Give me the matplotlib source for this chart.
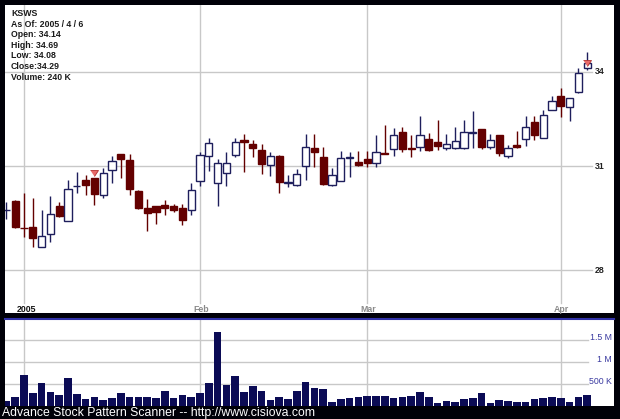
import matplotlib
matplotlib.use('Agg')
import matplotlib.pyplot as plt
import numpy as np
import pandas as pd

# ---------------- data ----------------
ticker = "KSWS"
holidays = ['2005-01-17', '2005-02-21', '2005-03-25']
dates = [d for d in pd.bdate_range('2004-12-30', '2005-04-06')
         if d.strftime('%Y-%m-%d') not in holidays]

opens = [29.69, 29.95, 29.18, 29.20, 28.64, 29.02, 29.80, 29.37, 30.39, 30.59,
         30.65, 30.13, 30.88, 31.38, 31.19, 30.27, 29.77, 29.80, 29.83, 29.80,
         29.77, 29.71, 30.56, 31.31, 30.50, 30.80, 31.35, 31.82, 31.69, 31.50,
         31.03, 31.31, 30.50, 30.42, 31.00, 31.57, 31.28, 30.42, 30.56, 31.25,
         31.12, 31.22, 31.09, 31.41, 31.53, 32.07, 31.57, 31.60, 31.85, 31.76,
         31.57, 31.57, 31.57, 32.04, 32.14, 31.60, 31.95, 31.31, 31.66, 31.85,
         32.36, 31.88, 32.77, 33.21, 32.86, 33.34, 34.14]
highs = [29.93, 30.00, 30.19, 30.04, 29.69, 30.10, 29.92, 30.59, 30.83, 30.74,
         30.65, 30.94, 31.31, 31.38, 31.38, 30.30, 30.01, 29.80, 29.98, 29.86,
         29.86, 30.50, 31.44, 31.88, 31.22, 31.44, 31.88, 32.01, 31.82, 31.69,
         31.44, 31.35, 30.74, 30.91, 31.98, 31.98, 31.60, 30.94, 31.47, 31.44,
         31.47, 31.47, 31.95, 32.29, 32.17, 32.23, 31.95, 32.55, 32.04, 32.45,
         31.98, 32.20, 32.45, 32.74, 32.14, 32.01, 31.95, 31.66, 32.10, 32.55,
         32.55, 32.77, 33.21, 33.46, 33.15, 34.13, 34.69]
lows = [29.43, 29.18, 28.93, 28.64, 28.64, 28.79, 29.49, 29.37, 30.21, 30.13,
        29.83, 30.04, 30.50, 30.65, 30.13, 29.74, 29.08, 29.28, 29.54, 29.63,
        29.25, 29.54, 30.39, 30.85, 29.80, 30.39, 31.28, 30.82, 31.28, 30.77,
        30.71, 30.21, 30.36, 30.39, 30.59, 30.97, 30.42, 30.39, 30.56, 30.68,
        31.00, 30.97, 30.97, 31.38, 31.31, 31.44, 31.28, 31.47, 31.47, 31.50,
        31.50, 31.53, 31.53, 31.57, 31.53, 31.53, 31.31, 31.25, 31.57, 31.63,
        31.82, 31.88, 32.77, 32.52, 32.39, 33.30, 34.08]
closes = [29.70, 29.20, 29.17, 28.90, 28.96, 29.57, 29.52, 30.33, 30.40, 30.42,
          30.16, 30.80, 31.16, 31.22, 30.33, 29.77, 29.60, 29.63, 29.77, 29.71,
          29.40, 30.30, 31.35, 31.72, 31.09, 31.09, 31.76, 31.76, 31.57, 31.06,
          31.31, 30.53, 30.53, 30.77, 31.60, 31.44, 30.47, 30.74, 31.25, 31.28,
          31.03, 31.09, 31.44, 31.38, 31.95, 31.53, 31.53, 31.95, 31.50, 31.63,
          31.69, 31.79, 32.07, 32.05, 31.60, 31.82, 31.41, 31.57, 31.60, 32.20,
          31.95, 32.61, 33.05, 32.89, 33.15, 33.97, 34.29]
volumes_k = [114, 212, 705, 288, 515, 311, 243, 644, 265, 152,
             212, 136, 182, 288, 197, 197, 197, 174, 341, 174,
             243, 205, 288, 523, 1690, 485, 682, 311, 455, 341,
             136, 197, 167, 341, 546, 417, 379, 98, 152, 174,
             212, 227, 227, 227, 190, 197, 227, 318, 197, 76,
             114, 98, 152, 190, 303, 68, 136, 114, 98, 98,
             152, 174, 212, 174, 98, 212, 240]
signal_idx = [10, 66]

price_ticks = [28, 31, 34]
volume_ticks = [500e3, 1e6, 1.5e6]
volume_tick_labels = ['500 K', '1 M', '1.5 M']
info_lines = [ticker, "As Of: 2005 / 4 / 6", "Open: 34.14", "High: 34.69",
              "Low: 34.08", "Close:34.29", "Volume: 240 K"]
footer = "Advance Stock Pattern Scanner -- http://www.cisiova.com"

# ---------------- layout ----------------
W, H = 620, 419
FONT = 'Liberation Sans'
fig = plt.figure(figsize=(W / 100, H / 100), dpi=100, facecolor='#000008')


def rect(x0, y0, x1, y1):
    return [x0 / W, 1 - y1 / H, (x1 - x0) / W, (y1 - y0) / H]


ax = fig.add_axes(rect(5, 5, 614, 313))
axv = fig.add_axes(rect(5, 319, 614, 406))

PX_DAY = 8.8
x_at = lambda px: 2 + (px - 24) / PX_DAY
xlim = (x_at(5), x_at(614))
for a in (ax, axv):
    a.set_facecolor('white')
    a.set_xlim(*xlim)
    a.set_xticks([])
    a.set_yticks([])
    for s in a.spines.values():
        s.set_visible(False)

ax.set_yscale('log')
ax.set_ylim(34 * np.exp(-(313 - 72) / 1020), 34 * np.exp((72 - 5) / 1020))
ax.yaxis.set_major_locator(matplotlib.ticker.NullLocator())
ax.yaxis.set_minor_locator(matplotlib.ticker.NullLocator())
vmax = 87 * 500e3 / 22
axv.set_ylim(0, vmax)

grid_c = '#c8c8c8'
xs = np.arange(len(dates))

# month gridlines and labels
month_starts = [i for i in range(1, len(dates)) if dates[i].month != dates[i - 1].month]
for i in month_starts:
    lab = str(dates[i].year) if dates[i].month == 1 else dates[i].strftime('%b')
    ax.axvline(i, ymin=(313 - 303) / 308, ymax=1, color=grid_c, lw=1, zorder=0)
    axv.axvline(i, color=grid_c, lw=1, zorder=0)
    ax.text(i - 7 / PX_DAY, (313 - 309) / 308, lab,
            transform=ax.get_xaxis_transform(), ha='left', va='center',
            fontsize=6.3, fontweight='bold', family=FONT,
            color='#111111' if dates[i].month == 1 else '#8a8a8a')

# price gridlines and labels
for p in price_ticks:
    ax.axhline(p, xmin=0, xmax=(592 - 5) / 609, color=grid_c, lw=1, zorder=0)
    ax.text(x_at(600), p, str(p), ha='center', va='center', fontsize=6.3,
            fontweight='bold', family=FONT, color='#222222')

# candles
up_c = '#1e1e5c'
dn_c = '#640000'
for i in xs:
    o, h, l, c = opens[i], highs[i], lows[i], closes[i]
    up = c >= o
    col = up_c if up else dn_c
    ax.vlines(i, l, h, color=col, lw=1, zorder=2)
    ax.bar(i, max(abs(c - o), 0.005), bottom=min(o, c), width=0.8,
           facecolor='white' if up else dn_c, edgecolor=col, lw=1, zorder=3)

# signal markers (apex just above the open)
tri = [(-4, 6), (4, 6), (0, 0)]
for i in signal_idx:
    ax.plot(i, opens[i] * np.exp(1.5 / 1020), marker=tri, ms=8.6,
            color='#e86a6a', mec='#b03030', mew=0.6, zorder=5, ls='none')

# info text
for k, line in enumerate(info_lines):
    fig.text(11 / W, 1 - (13.5 + 10.6 * k) / H, line, ha='left', va='center',
             fontsize=6.3, fontweight='bold', family=FONT, color='#1a1a1a')

# volume
axv.bar(xs, np.array(volumes_k) * 1e3, width=0.85, color='#0b0b55', zorder=2)
for v, lab in zip(volume_ticks, volume_tick_labels):
    axv.axhline(v, xmin=0, xmax=(588 - 5) / 609, color=grid_c, lw=1, zorder=0)
    axv.text(x_at(612), v + 2.5 * vmax / 87, lab, ha='right', va='center',
             fontsize=6.3, family=FONT, color='#3a3aa0')

# panel separator line
fig.add_artist(plt.Line2D([5 / W, 614 / W], [1 - 319 / H, 1 - 319 / H],
                          color='#3232a8', lw=1.5))

# footer
fig.text(2 / W, 1 - 412.5 / H, footer, ha='left', va='center', fontsize=8.8,
         family=FONT, color='white')

fig.savefig('out.png', dpi=100, facecolor=fig.get_facecolor())
